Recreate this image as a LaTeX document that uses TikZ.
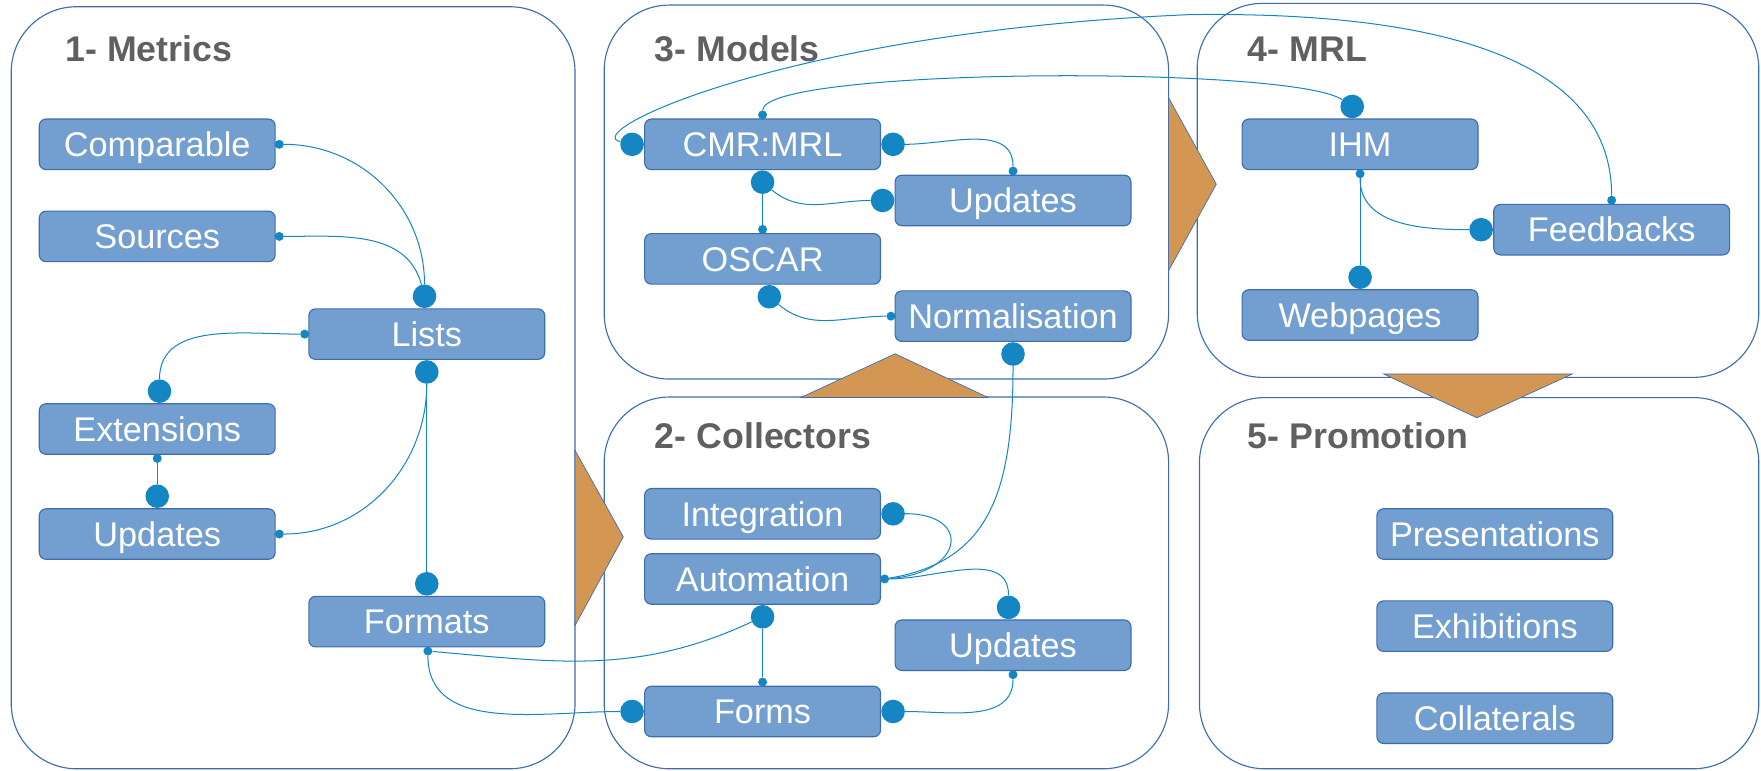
\documentclass[tikz,border=0pt]{standalone}
\usepackage{fontspec}
\setmainfont{Liberation Sans}
\usepackage{tikz}
\usetikzlibrary{positioning}
\definecolor{boxfill}{HTML}{729FCF}
\definecolor{boxline}{HTML}{3F6CAE}
\definecolor{wirecol}{HTML}{1586C4}
\definecolor{stagecol}{HTML}{3B6DB0}
\definecolor{arrowfill}{HTML}{D39653}
\definecolor{titlegray}{HTML}{606060}

\begin{document}
\begin{tikzpicture}[x=1pt,y=1pt,
  item/.style={draw=boxline, fill=boxfill, line width=1pt, rounded corners=6pt,
    minimum width=210pt, minimum height=45pt, inner sep=0pt, text=white,
    font=\fontsize{30.5}{36}\selectfont, text height=21.8pt, text depth=0pt},
  stagebox/.style={draw=stagecol, line width=1pt, rounded corners=58pt},
  stagetitle/.style={anchor=base west, inner sep=0pt, text=titlegray,
    font=\fontsize{31.8}{37}\selectfont\bfseries},
  pointer/.style={fill=arrowfill, draw=stagecol, line width=0.6pt},
  bigdot/.style={circle, fill=wirecol, inner sep=0pt, minimum size=21pt},
  smalldot/.style={circle, fill=wirecol, inner sep=0pt, minimum size=8pt},
  link/.style={draw=wirecol, line width=0.9pt}]
\useasboundingbox (0,0) rectangle (1568,-686);

\draw[stagebox] (10,-6) rectangle (512,-684.5);
\draw[stagebox] (538,-4.5) rectangle (1040.5,-337.5);
\draw[stagebox] (538,-353.5) rectangle (1040.5,-684.5);
\draw[stagebox] (1066,-3) rectangle (1566,-336);
\draw[stagebox] (1068,-354) rectangle (1566,-684.5);

\filldraw[pointer] (512,-401) -- (555,-478) -- (512,-557) -- cycle;
\filldraw[pointer] (713,-354) -- (797,-315) -- (880,-354) -- cycle;
\filldraw[pointer] (1040.5,-87) -- (1083,-164) -- (1040.5,-241) -- cycle;
\filldraw[pointer] (1232,-333) -- (1315,-372) -- (1400,-333) -- cycle;

\node[stagetitle] (t-metrics) at (58,-54.5) {1- Metrics};
\node[stagetitle] (t-models) at (583,-54.5) {3- Models};
\node[stagetitle] (t-mrl) at (1111,-54.5) {4- MRL};
\node[stagetitle] (t-collectors) at (583,-399) {2- Collectors};
\node[stagetitle] (t-promotion) at (1111,-399) {5- Promotion};

\node[item] (comparable) at (140,-128.5) {Comparable};
\node[item] (sources) at (140,-210.5) {Sources};
\node[item] (lists) at (380,-297.5) {Lists};
\node[item] (extensions) at (140,-382) {Extensions};
\node[item] (m-updates) at (140,-475.5) {Updates};
\node[item] (formats) at (380,-553.5) {Formats};

\node[item] (cmrmrl) at (679,-128.5) {CMR:MRL};
\node[item] (s-updates) at (902,-178.5) {Updates};
\node[item] (oscar) at (679,-230.5) {OSCAR};
\node[item] (normalisation) at (902,-281.5) {Normalisation};

\node[item] (integration) at (679,-457.5) {Integration};
\node[item] (automation) at (679,-515.5) {Automation};
\node[item] (c-updates) at (902,-574.5) {Updates};
\node[item] (forms) at (679,-633.5) {Forms};

\node[item] (ihm) at (1211,-128.5) {IHM};
\node[item] (feedbacks) at (1435,-204.5) {Feedbacks};
\node[item] (webpages) at (1211,-280.5) {Webpages};

\node[item] (presentations) at (1331,-475.5) {Presentations};
\node[item] (exhibitions) at (1331,-557.5) {Exhibitions};
\node[item] (collaterals) at (1331,-639.5) {Collaterals};

\node[smalldot, right=-1pt of comparable] (cmp-r) {};
\node[smalldot, right=-1pt of sources] (src-r) {};
\node[bigdot, above=0pt of lists, xshift=-2pt] (lst-t) {};
\node[smalldot, left=-1pt of lists] (lst-l) {};
\node[bigdot, below=0pt of lists] (lst-b) {};
\node[bigdot, above=0pt of extensions, xshift=2pt] (ext-t) {};
\node[smalldot, below=-1pt of extensions] (ext-b) {};
\node[bigdot, above=0pt of m-updates] (mup-t) {};
\node[smalldot, right=-1pt of m-updates] (mup-r) {};
\node[bigdot, above=0pt of formats] (fmt-t) {};
\node[smalldot, below=-1pt of formats, xshift=1pt] (fmt-b) {};

\node[bigdot, left=0pt of cmrmrl] (cmr-l) {};
\node[bigdot, right=0pt of cmrmrl] (cmr-r) {};
\node[smalldot, above=-1pt of cmrmrl] (cmr-t) {};
\node[bigdot, below=0pt of cmrmrl] (cmr-b) {};
\node[smalldot, above=-1pt of s-updates] (sup-t) {};
\node[bigdot, left=0pt of s-updates] (sup-l) {};
\node[smalldot, above=-1pt of oscar] (osc-t) {};
\node[bigdot, below=0pt of oscar, xshift=6pt] (osc-b) {};
\node[smalldot, left=-1pt of normalisation] (nrm-l) {};
\node[bigdot, below=0pt of normalisation] (nrm-b) {};

\node[bigdot, right=0pt of integration] (int-r) {};
\node[smalldot, right=-1pt of automation] (aut-r) {};
\node[bigdot, below=0pt of automation] (aut-b) {};
\node[bigdot, above=0pt of c-updates, xshift=-4pt] (cup-t) {};
\node[smalldot, below=-1pt of c-updates] (cup-b) {};
\node[smalldot, above=-1pt of forms] (frm-t) {};
\node[bigdot, left=0pt of forms] (frm-l) {};
\node[bigdot, right=0pt of forms] (frm-r) {};

\node[bigdot, above=0pt of ihm, xshift=-7pt] (ihm-t) {};
\node[smalldot, below=-1pt of ihm] (ihm-b) {};
\node[bigdot, above=0pt of webpages] (web-t) {};
\node[bigdot, left=0pt of feedbacks] (fdb-l) {};
\node[smalldot, above=-1pt of feedbacks] (fdb-t) {};

\coordinate (arc-top) at (1060,-13);

\draw[link] (cmp-r) to[out=0,in=90] (lst-t);
\draw[link] (src-r) to[out=0,in=105] (lst-t);
\draw[link] (lst-l) to[out=180,in=90] (ext-t);
\draw[link] (lst-b) to[out=-90,in=0] (mup-r);
\draw[link] (lst-b) -- (fmt-t);
\draw[link] (ext-b) -- (mup-t);
\draw[link] (fmt-b) to[out=-5,in=-155] (aut-b);
\draw[link] (fmt-b) to[out=-90,in=180] (frm-l);

\draw[link] (cmr-r) to[out=0,in=90] (sup-t);
\draw[link] (cmr-b) to[out=-40,in=180] (sup-l);
\draw[link] (cmr-b) -- (osc-t);
\draw[link] (osc-b) to[out=-40,in=180] (nrm-l);
\draw[link] (nrm-b) .. controls (902,-440) and (880,-500) .. (aut-r);
\draw[link] (cmr-l) .. controls (515,-118) and (700,-28) .. (arc-top)
  .. controls (1300,-10) and (1435,-60) .. (fdb-t);
\draw[link] (cmr-t) .. controls (680,-60) and (1150,-58) .. (ihm-t);

\draw[link] (ihm-b) -- (web-t);
\draw[link] (ihm-b) to[out=-90,in=180] (fdb-l);

\draw[link] (int-r) .. controls (865,-457) and (860,-510) .. (aut-r);
\draw[link] (aut-r) to[out=0,in=90] (cup-t);
\draw[link] (aut-b) -- (frm-t);
\draw[link] (frm-r) to[out=0,in=-90] (cup-b);
\end{tikzpicture}
\end{document}
